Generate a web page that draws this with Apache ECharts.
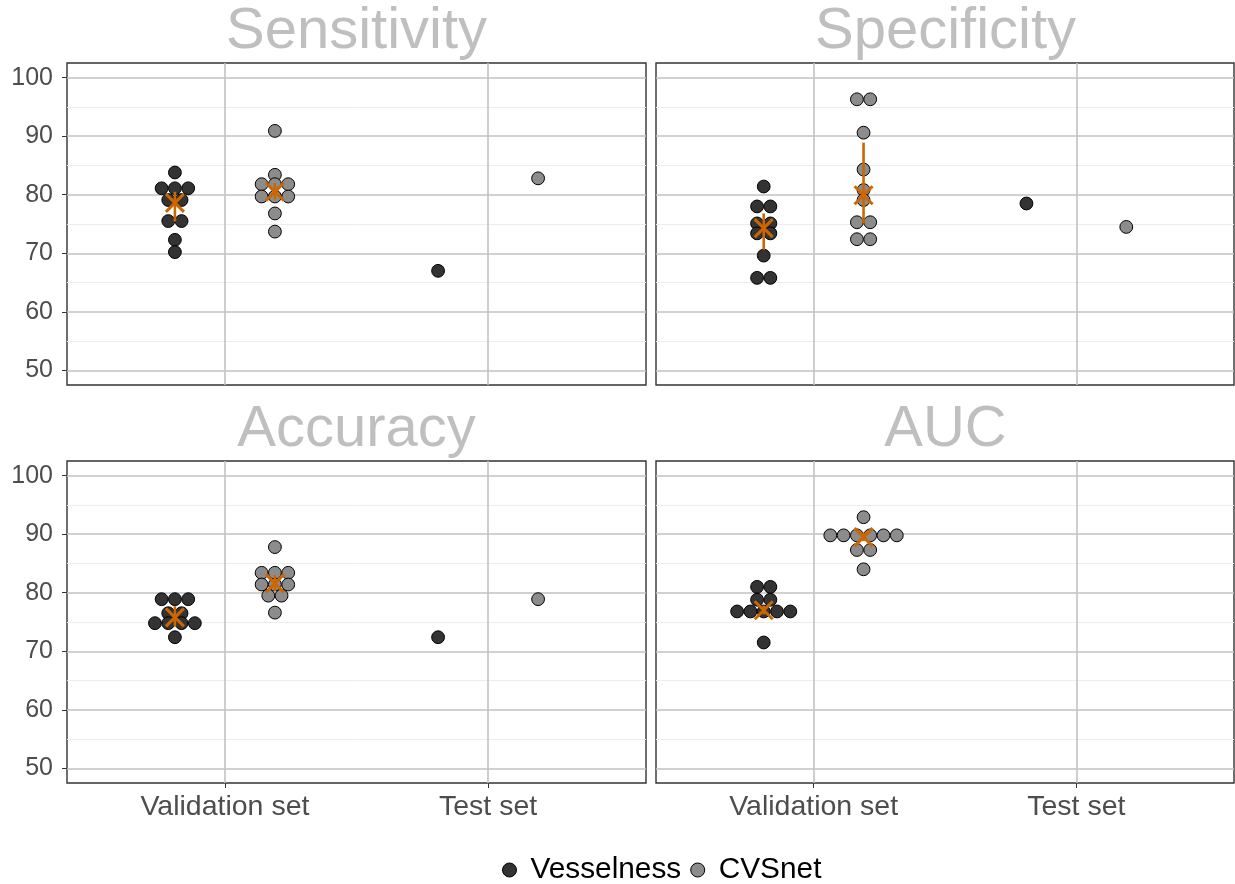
<!DOCTYPE html>
<html><head><meta charset="utf-8">
<script src="https://cdn.jsdelivr.net/npm/echarts@6/dist/echarts.min.js"></script>
<style>html,body{margin:0;padding:0;background:#fff}#c{width:1235px;height:884px}</style>
</head><body><div id="c"></div>
<script>
// ---------- data ----------
const metrics = ['Sensitivity', 'Specificity', 'Accuracy', 'AUC'];
const sets = ['Validation set', 'Test set'];
const methods = ['Vesselness', 'CVSnet'];
const yTicks = [50, 60, 70, 80, 90, 100];
const yMinorTicks = [55, 65, 75, 85, 95];

// Validation set: per-fold values (dot-plot bins as read)
const sensVesselness = [83.8, 81.1, 81.1, 81.1, 79.1, 79.1, 75.5, 75.5, 72.3, 70.2];
const sensCVSnet     = [90.9, 83.4, 81.8, 81.8, 81.8, 79.7, 79.7, 79.7, 76.8, 73.7];
const specVesselness = [81.4, 78.0, 78.0, 75.1, 75.1, 73.4, 73.4, 69.6, 65.8, 65.8];
const specCVSnet     = [96.3, 96.3, 90.6, 84.3, 80.8, 79.1, 75.3, 75.3, 72.4, 72.4];
const accVesselness  = [78.9, 78.9, 78.9, 76.5, 76.5, 74.8, 74.8, 74.8, 74.8, 72.4];
const accCVSnet      = [87.8, 83.4, 83.4, 83.4, 81.4, 81.4, 81.4, 79.5, 79.5, 76.6];
const aucVesselness  = [81.0, 81.0, 78.8, 78.8, 76.8, 76.8, 76.8, 76.8, 76.8, 71.5];
const aucCVSnet      = [92.9, 89.8, 89.8, 89.8, 89.8, 89.8, 89.8, 87.3, 87.3, 84.0];

// Test set: single value per metric (AUC not reported)
const testVesselness = [67.0, 78.5, 72.4, null];
const testCVSnet     = [82.8, 74.5, 78.9, null];

// Validation set summary (centre, lower, upper) per metric
const meanVesselness = [78.6, 74.3, 75.8, 77.0];
const lowVesselness  = [75.4, 70.6, 74.2, 76.3];
const highVesselness = [80.5, 76.8, 77.7, 77.8];
const meanCVSnet     = [80.5, 79.9, 81.6, 89.5];
const lowCVSnet      = [79.2, 75.1, 80.3, 88.8];
const highCVSnet     = [82.0, 88.9, 83.0, 90.3];

// ---------- styling / layout ----------
const valVesselness = [sensVesselness, specVesselness, accVesselness, aucVesselness];
const valCVSnet = [sensCVSnet, specCVSnet, accCVSnet, aucCVSnet];
const FILL = ['#333333', '#8c8c8c'];
const ORANGE = '#cd6600';
const MAJOR = '#c2c2c2';
const MINOR = '#ececec';
const DODGE = 0.19;
const DOT = 13.3;
const FONT = 'Liberation Sans, Arial, Helvetica, sans-serif';
const panels = [
  {left: 67, top: 63}, {left: 656, top: 63},
  {left: 67, top: 461}, {left: 656, top: 461}
];
const PW = 579, PH = 322;

function stackDots(points) {
  // points: [x, y]; equal (x,y) are stacked side by side
  const groups = {};
  points.forEach(p => { const key = p[0] + '|' + p[1]; (groups[key] = groups[key] || []).push(p); });
  const out = [];
  Object.keys(groups).forEach(key => {
    const g = groups[key];
    g.forEach((p, k) => out.push([p[0], p[1], k, g.length]));
  });
  return out;
}

function renderDot(params, api) {
  const c = api.coord([api.value(0), api.value(1)]);
  const k = api.value(2), n = api.value(3);
  return {
    type: 'circle',
    shape: {cx: c[0] + (k - (n - 1) / 2) * DOT, cy: c[1], r: 6.4},
    style: {fill: api.visual('color'), stroke: '#000', lineWidth: 1}
  };
}
function renderSummary(params, api) {
  const x = api.value(0);
  const m = api.coord([x, api.value(1)]);
  const lo = api.coord([x, api.value(2)]);
  const hi = api.coord([x, api.value(3)]);
  const s = 9;
  return {type: 'group', children: [
    {type: 'line', shape: {x1: lo[0], y1: lo[1], x2: hi[0], y2: hi[1]}, style: {stroke: ORANGE, lineWidth: 2.6}},
    {type: 'line', shape: {x1: m[0] - s, y1: m[1] - s, x2: m[0] + s, y2: m[1] + s}, style: {stroke: ORANGE, lineWidth: 3}},
    {type: 'line', shape: {x1: m[0] - s, y1: m[1] + s, x2: m[0] + s, y2: m[1] - s}, style: {stroke: ORANGE, lineWidth: 3}}
  ]};
}

const grid = [], xAxis = [], yAxis = [], series = [], graphic = [];
panels.forEach((p, i) => {
  const bottomRow = i >= 2;
  grid.push({left: p.left, top: p.top, width: i % 2 ? PW - 1 : PW, height: PH, show: true,
    borderColor: '#333333', borderWidth: 1.4, backgroundColor: 'transparent'});
  xAxis.push({type: 'value', gridIndex: i, min: 0.4, max: 2.6,
    axisLine: {show: false},
    axisTick: {show: bottomRow, customValues: [1, 2], length: 5, lineStyle: {color: '#333333'}},
    axisLabel: {show: bottomRow, customValues: [1, 2], formatter: v => sets[Math.round(v) - 1],
      color: '#4d4d4d', fontSize: 28.5, fontFamily: FONT, margin: 10},
    splitLine: {show: true, lineStyle: {color: MAJOR, width: 1.6}}
  });
  graphic.push({type: 'text', x: p.left + PW / 2, y: p.top - 31, z: 10,
    style: {text: metrics[i], fill: '#bfbfbf', font: '58px ' + FONT, textAlign: 'center', textVerticalAlign: 'middle'}});
});
panels.forEach((p, i) => {
  const leftCol = i % 2 === 0;
  yAxis.push({type: 'value', gridIndex: i, min: 47.5, max: 102.5,
    axisLine: {show: false},
    axisTick: {show: leftCol, customValues: yTicks, length: 5, lineStyle: {color: '#333333'}},
    axisLabel: {show: leftCol, customValues: yTicks, color: '#4d4d4d', fontSize: 25, fontFamily: FONT, margin: 14},
    splitLine: {show: true, lineStyle: {color: MAJOR, width: 1.6}}
  });
});
panels.forEach((p, i) => {
  yAxis.push({type: 'value', gridIndex: i, min: 47.5, max: 102.5, position: 'left',
    axisLine: {show: false},
    axisTick: {show: false, customValues: yMinorTicks},
    axisLabel: {show: false, customValues: yMinorTicks},
    splitLine: {show: true, lineStyle: {color: MINOR, width: 1}}
  });
});

const tests = [testVesselness, testCVSnet];
const vals = [valVesselness, valCVSnet];
const means = [meanVesselness, meanCVSnet], lows = [lowVesselness, lowCVSnet], highs = [highVesselness, highCVSnet];
panels.forEach((p, i) => {
  methods.forEach((name, j) => {
    const off = (j === 0 ? -1 : 1) * DODGE;
    const pts = vals[j][i].map(v => [1 + off, v]);
    if (tests[j][i] != null) pts.push([2 + off, tests[j][i]]);
    series.push({type: 'custom', name: name, xAxisIndex: i, yAxisIndex: i, z: 3,
      itemStyle: {color: FILL[j], borderColor: '#000'},
      renderItem: renderDot, encode: {x: 0, y: 1}, data: stackDots(pts), silent: true});
  });
  methods.forEach((name, j) => {
    const off = (j === 0 ? -1 : 1) * DODGE;
    series.push({type: 'custom', name: 'summary', xAxisIndex: i, yAxisIndex: i, z: 5,
      renderItem: renderSummary, encode: {x: 0, y: 1},
      data: [[1 + off, means[j][i], lows[j][i], highs[j][i]]], silent: true});
  });
});

const chart = echarts.init(document.getElementById('c'), null, {renderer: 'canvas'});
chart.setOption({
  animation: false,
  backgroundColor: '#ffffff',
  grid, xAxis, yAxis, series, graphic,
  legend: {
    data: methods.map((m, j) => ({name: m, icon: 'circle', itemStyle: {color: FILL[j], borderColor: '#000', borderWidth: 1}})),
    left: 497, top: 850, itemWidth: 32, itemHeight: 14, itemGap: 9,
    textStyle: {color: '#000', fontSize: 29.8, fontFamily: FONT, padding: [0, 0, 0, 0]},
    selectedMode: false
  }
});
</script></body></html>
